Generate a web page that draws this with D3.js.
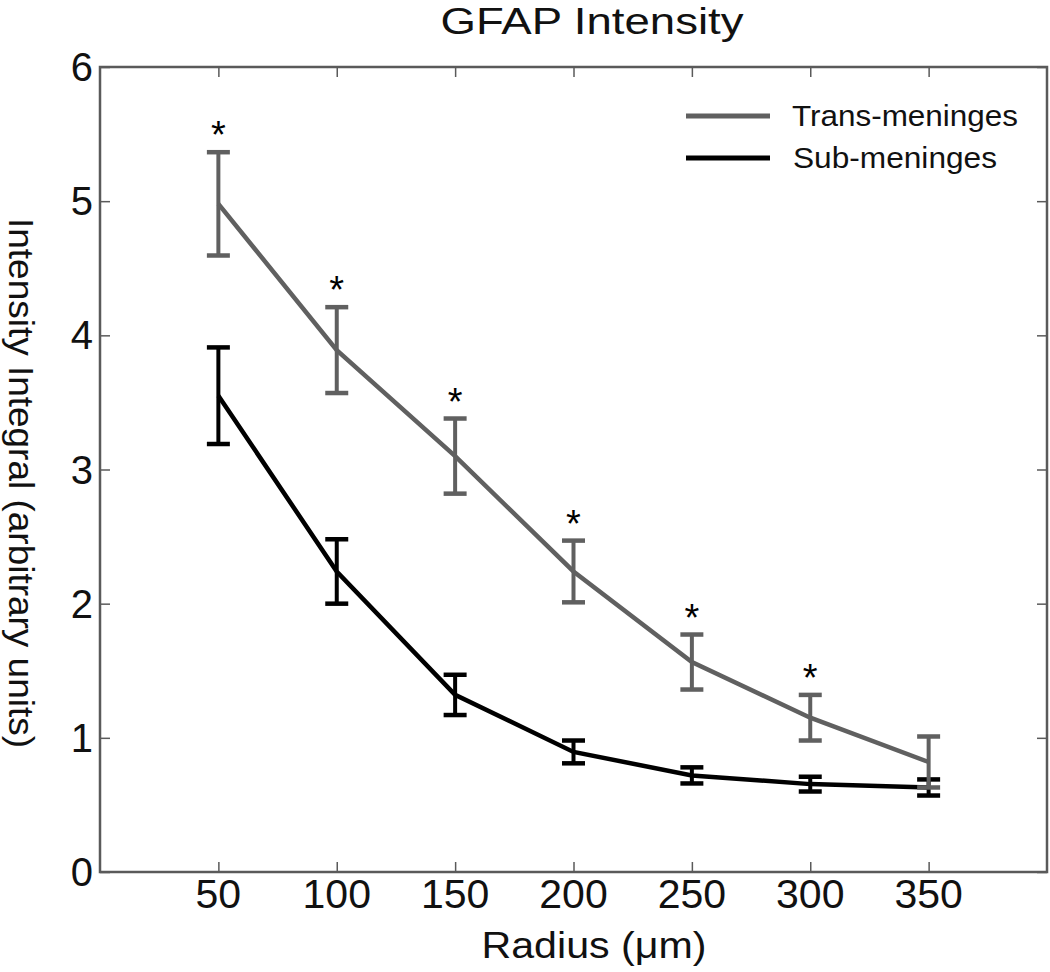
<!DOCTYPE html>
<html><head><meta charset="utf-8">
<script src="https://cdn.jsdelivr.net/npm/d3@7"></script>
<style>body{margin:0;background:#fff}text{font-family:"Liberation Sans",Arial,sans-serif}</style>
</head><body><svg id="c" width="1050" height="972"></svg>
<script>
const radius = [50, 100, 150, 200, 250, 300, 350];
const transMean = [4.98, 3.89, 3.10, 2.24, 1.565, 1.15, 0.82];
const transErr = [0.385, 0.32, 0.28, 0.23, 0.205, 0.17, 0.19];
const subMean = [3.55, 2.24, 1.32, 0.895, 0.72, 0.655, 0.63];
const subErr = [0.36, 0.24, 0.15, 0.085, 0.06, 0.055, 0.06];
const significant = [true, true, true, true, true, true, false];
const xTicks = [50, 100, 150, 200, 250, 300, 350];
const yTicks = [0, 1, 2, 3, 4, 5, 6];
const seriesNames = ["Trans-meninges", "Sub-meninges"];
const seriesColors = ["#606060", "#000000"];

const svg = d3.select("#c");
const L = 100, R = 1047, T = 67, B = 872;
const x = d3.scaleLinear().domain([0, 400]).range([L, R]);
const y = d3.scaleLinear().domain([0, 6]).range([B, T]);
const axisColor = "#5a5a5a";

// frame
svg.append("rect").attr("x", L).attr("y", T).attr("width", R - L).attr("height", B - T)
  .attr("fill", "none").attr("stroke", axisColor).attr("stroke-width", 2.5);

// axes (ticks inward)
const gxB = svg.append("g").attr("transform", `translate(0,${B})`)
  .call(d3.axisTop(x).tickValues(xTicks).tickSize(10).tickFormat(""));
const gxT = svg.append("g").attr("transform", `translate(0,${T})`)
  .call(d3.axisBottom(x).tickValues(xTicks).tickSize(10).tickFormat(""));
const gyL = svg.append("g").attr("transform", `translate(${L},0)`)
  .call(d3.axisRight(y).tickValues(yTicks).tickSize(10).tickFormat(""));
const gyR = svg.append("g").attr("transform", `translate(${R},0)`)
  .call(d3.axisLeft(y).tickValues(yTicks).tickSize(10).tickFormat(""));
[gxB, gxT, gyL, gyR].forEach(g => {
  g.select(".domain").remove();
  g.selectAll(".tick line").attr("stroke", axisColor).attr("stroke-width", 1.5);
});

// tick labels
svg.append("g").selectAll("text").data(xTicks).join("text")
  .attr("x", d => x(d)).attr("y", B + 36).attr("text-anchor", "middle")
  .attr("font-size", 41).attr("fill", "#111").text(d => d);
svg.append("g").selectAll("text").data(yTicks).join("text")
  .attr("x", L - 7).attr("y", d => y(d) + 14).attr("text-anchor", "end")
  .attr("font-size", 40).attr("fill", "#111").text(d => d);

// titles
svg.append("text").attr("x", 592).attr("y", 34).attr("text-anchor", "middle")
  .attr("font-size", 36).attr("textLength", 303).attr("lengthAdjust", "spacingAndGlyphs")
  .attr("fill", "#111").text("GFAP Intensity");
svg.append("text").attr("x", 594).attr("y", 958).attr("text-anchor", "middle")
  .attr("font-size", 36).attr("textLength", 225).attr("lengthAdjust", "spacingAndGlyphs")
  .attr("fill", "#111").text("Radius (\u03bcm)");
svg.append("text").attr("transform", "translate(9,483) rotate(90)").attr("text-anchor", "middle")
  .attr("font-size", 35).attr("textLength", 530).attr("lengthAdjust", "spacingAndGlyphs")
  .attr("fill", "#111").text("Intensity Integral (arbitrary units)");

function drawSeries(mean, err, color, lw) {
  const data = radius.map((r, i) => ({r, m: mean[i], e: err[i]}));
  const g = svg.append("g");
  g.append("path").datum(data)
    .attr("d", d3.line().x(d => x(d.r)).y(d => y(d.m)))
    .attr("fill", "none").attr("stroke", color).attr("stroke-width", lw);
  const eb = g.selectAll("g.eb").data(data).join("g");
  eb.append("line").attr("x1", d => x(d.r)).attr("x2", d => x(d.r))
    .attr("y1", d => y(d.m - d.e)).attr("y2", d => y(d.m + d.e))
    .attr("stroke", color).attr("stroke-width", 4);
  [-1, 1].forEach(s => {
    eb.append("line").attr("x1", d => x(d.r) - 11.5).attr("x2", d => x(d.r) + 11.5)
      .attr("y1", d => y(d.m + s * d.e)).attr("y2", d => y(d.m + s * d.e))
      .attr("stroke", color).attr("stroke-width", 4.5);
  });
}
drawSeries(subMean, subErr, seriesColors[1], 4.5);
drawSeries(transMean, transErr, seriesColors[0], 4.5);

// significance stars
svg.append("g").selectAll("text").data(radius.filter((r, i) => significant[i]))
  .join("text")
  .attr("x", d => x(d)).attr("y", (d) => y(transMean[radius.indexOf(d)] + transErr[radius.indexOf(d)]) - 4)
  .attr("text-anchor", "middle").attr("font-size", 38).attr("fill", "#000").text("*");

// legend
const leg = svg.append("g");
const legLen = [226, 204];
seriesNames.forEach((n, i) => {
  const yy = 116 + i * 42;
  leg.append("line").attr("x1", 686).attr("x2", 770).attr("y1", yy).attr("y2", yy)
    .attr("stroke", seriesColors[i]).attr("stroke-width", 5);
  leg.append("text").attr("x", 792 + i).attr("y", yy + 10).attr("font-size", 29)
    .attr("textLength", legLen[i]).attr("lengthAdjust", "spacingAndGlyphs")
    .attr("fill", "#111").text(n);
});
</script></body></html>
